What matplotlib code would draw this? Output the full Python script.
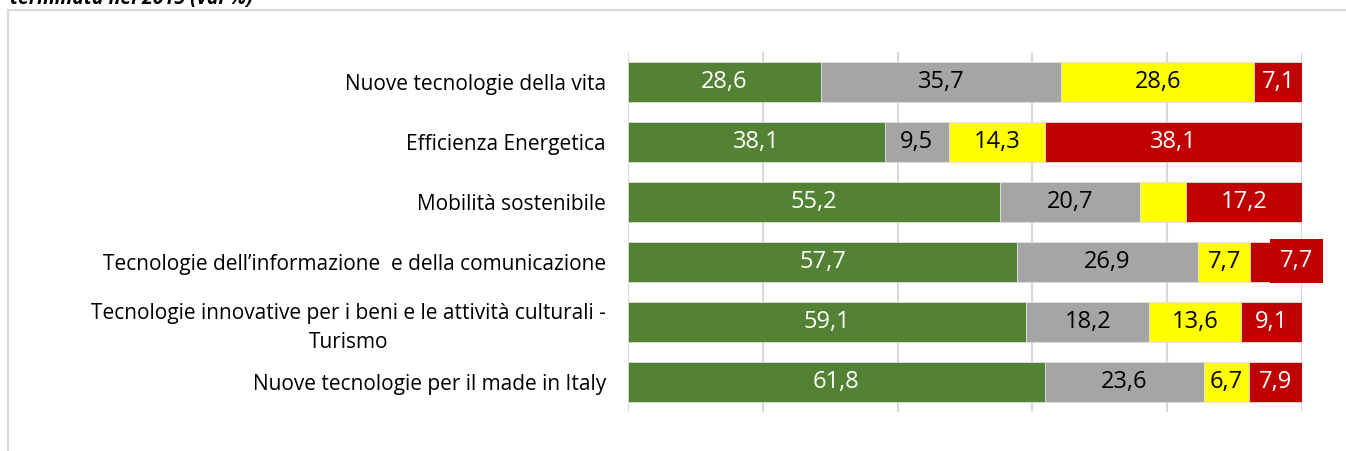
import numpy as np
import matplotlib
matplotlib.use("Agg")
import matplotlib.pyplot as plt
from matplotlib.patches import Rectangle

plt.rcParams["font.family"] = ["Open Sans", "DejaVu Sans"]

categorie = [
    "Nuove tecnologie della vita",
    "Efficienza Energetica",
    "Mobilità sostenibile",
    "Tecnologie dell\u2019informazione  e della comunicazione",
    "Tecnologie innovative per i beni e le attività culturali -\nTurismo",
    "Nuove tecnologie per il made in Italy",
]
verde = [28.6, 38.1, 55.2, 57.7, 59.1, 61.8]
grigio = [35.7, 9.5, 20.7, 26.9, 18.2, 23.6]
giallo = [28.6, 14.3, 6.9, 7.7, 13.6, 6.7]
rosso = [7.1, 38.1, 17.2, 7.7, 9.1, 7.9]
# etichette mostrate (None = nessuna etichetta)
etich_giallo = ["28,6", "14,3", None, "7,7", "13,6", "6,7"]

serie = [
    (verde, "#548235", "white", None),
    (grigio, "#a5a5a5", "black", None),
    (giallo, "#ffff00", "black", etich_giallo),
    (rosso, "#c00000", "white", None),
]

W, H = 1346, 451
fig = plt.figure(figsize=(W / 100, H / 100), dpi=100)
ax = fig.add_axes([628 / W, 1 - 412 / H, 674 / W, 360 / H])

# cornice esterna
fig.patches.append(Rectangle((8 / W, -0.1), 1.2, 1 - 10 / H + 0.1,
                             transform=fig.transFigure, fill=False,
                             edgecolor="#d9d9d9", linewidth=1.5))

fig.text(10 / W, 1 - 4 / H, "terminata nel 2015 (val %)", fontsize=14,
         fontweight="bold", fontstyle="italic", va="baseline", ha="left")

y = np.arange(len(categorie))
left = np.zeros(len(categorie))
for vals, col, tcol, labs in serie:
    vals = np.array(vals)
    ax.barh(y, vals, left=left, height=0.667, color=col,
            edgecolor="#e0e0e0", linewidth=0.6, zorder=3)
    for i, v in enumerate(vals):
        txt = f"{v:.1f}".replace(".", ",") if labs is None else labs[i]
        if txt is None:
            continue
        cx = left[i] + v / 2
        if col == "#c00000" and i == 3:
            ax.annotate(txt, (cx, y[i]), xytext=(15, 1), textcoords="offset points",
                        ha="center", va="center", color=tcol, fontsize=17,
                        zorder=5,
                        bbox=dict(boxstyle="square,pad=0.42", facecolor=col,
                                  edgecolor="none"))
        else:
            ax.text(cx, y[i], txt, ha="center", va="center", color=tcol,
                    fontsize=17, zorder=4)
    left += vals

ax.set_xlim(0, 100)
ax.set_ylim(len(categorie) - 0.5, -0.5)
ax.set_xticks(np.arange(0, 101, 20))
ax.xaxis.grid(True, color="#d9d9d9", linewidth=1.5, zorder=0)
ax.tick_params(axis="x", length=0, labelbottom=False)
ax.tick_params(axis="y", length=0, pad=16)
ax.set_yticks(y)
ax.set_yticklabels(categorie, fontsize=15, multialignment="center",
                   linespacing=1.5)
for s in ax.spines.values():
    s.set_visible(False)

fig.savefig("out.png", dpi=100)
